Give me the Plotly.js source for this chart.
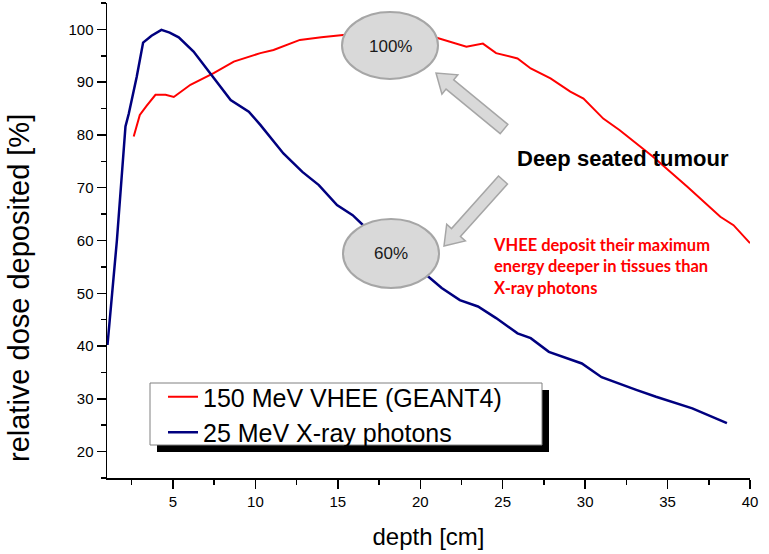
<!DOCTYPE html>
<html>
<head>
<meta charset="utf-8">
<script src="https://cdn.plot.ly/plotly-3.0.1.min.js"></script>
<style>html,body{margin:0;padding:0;background:#fff;}#chart{width:769px;height:554px;}</style>
</head>
<body>
<div id="chart"></div>
<script>
// ---- data ----
const xrayName = "25 MeV X-ray photons";
const xrayDepth = [1.03, 1.6, 2.12, 2.32, 2.8, 3.19, 3.7, 4.3, 4.8, 5.35, 6.25, 7.45, 8.5, 9.6, 10.3, 11.7, 12.85, 13.85, 14.95, 15.9, 16.6, 17.5, 18.5, 19.5, 20.5, 21.3, 22.4, 23.5, 24.6, 25.9, 26.7, 27.8, 29.8, 31.0, 33.1, 34.3, 36.5, 38.6];
const xrayDose  = [40.2, 60.0, 81.6, 84.0, 91.0, 97.5, 98.8, 99.9, 99.4, 98.5, 95.8, 91.0, 86.6, 84.4, 81.9, 76.5, 73.0, 70.5, 66.7, 64.8, 62.7, 60.8, 58.4, 55.8, 53.1, 51.0, 48.7, 47.5, 45.3, 42.4, 41.5, 38.9, 36.7, 34.1, 31.7, 30.4, 28.2, 25.4];

const vheeName = "150 MeV VHEE (GEANT4)";
const vheeDepth = [2.62, 2.99, 3.4, 3.94, 4.55, 5.05, 6.06, 7.47, 8.69, 10.3, 11.1, 12.7, 14.0, 15.15, 16.5, 18.0, 19.5, 20.5, 21.1, 22.8, 23.8, 24.6, 25.9, 26.7, 27.9, 29.1, 29.9, 31.1, 32.1, 34.1, 36.2, 38.2, 39.0, 40.0];
const vheeDose  = [79.7, 83.8, 85.5, 87.6, 87.6, 87.2, 89.5, 91.7, 93.9, 95.5, 96.1, 98.0, 98.5, 98.9, 99.3, 99.6, 99.3, 98.9, 98.3, 96.7, 97.3, 95.5, 94.5, 92.6, 90.7, 88.2, 86.9, 83.1, 80.9, 75.9, 70.2, 64.5, 62.9, 59.5];

const xTicks = [5, 10, 15, 20, 25, 30, 35, 40];
const yTicks = [20, 30, 40, 50, 60, 70, 80, 90, 100];
const xTitle = "depth [cm]";
const yTitle = "relative dose deposited [%]";
const label100 = "100%";
const label60 = "60%";
const tumourText = "Deep seated tumour";
const noteText = "VHEE deposit their maximum<br>energy deeper in tissues than<br>X-ray photons";

// ---- layout geometry ----
const W = 769, H = 554;
const M = {l: 107, r: 19, t: 3, b: 76};
const PW = W - M.l - M.r, PH = H - M.t - M.b;
const px = x => (x - M.l) / PW;
const py = y => (M.t + PH - y) / PH;

function arrowPath(tail, tip, sw, hw, hl) {
  const dx = tip[0] - tail[0], dy = tip[1] - tail[1];
  const len = Math.hypot(dx, dy);
  const ux = dx / len, uy = dy / len, nx = -uy, ny = ux;
  const neck = [tip[0] - ux * hl, tip[1] - uy * hl];
  const pts = [
    [tail[0] + nx * sw, tail[1] + ny * sw],
    [neck[0] + nx * sw, neck[1] + ny * sw],
    [neck[0] + nx * hw, neck[1] + ny * hw],
    tip,
    [neck[0] - nx * hw, neck[1] - ny * hw],
    [neck[0] - nx * sw, neck[1] - ny * sw],
    [tail[0] - nx * sw, tail[1] - ny * sw]
  ];
  return "M " + pts.map(p => px(p[0]).toFixed(4) + "," + py(p[1]).toFixed(4)).join(" L ") + " Z";
}

const FONT = "Arial, 'Liberation Sans', sans-serif";

const traces = [
  {x: vheeDepth, y: vheeDose, name: vheeName, type: "scatter", mode: "lines",
   line: {color: "#ff0000", width: 2}},
  {x: xrayDepth, y: xrayDose, name: xrayName, type: "scatter", mode: "lines",
   line: {color: "#00007f", width: 2.5}}
];

const grayFill = "#d9d9d9", grayLine = "#a6a6a6";

const layout = {
  width: W, height: H,
  margin: M,
  paper_bgcolor: "#fff", plot_bgcolor: "#fff",
  font: {family: FONT, color: "#000"},
  showlegend: true,
  legend: {x: px(163), y: py(374), xanchor: "left", yanchor: "top",
           bgcolor: "rgba(0,0,0,0)", borderwidth: 0,
           font: {family: FONT, size: 25, color: "#000"}, tracegroupgap: 0},
  xaxis: {range: [1, 40], tickvals: xTicks, ticks: "outside", ticklen: 9, tickwidth: 1.5,
          tickcolor: "#000", showline: true, linecolor: "#000", linewidth: 1.5,
          showgrid: false, zeroline: false, tickfont: {size: 15, family: FONT},
          minor: {dtick: 2.5, tick0: 0, ticks: "outside", ticklen: 5, tickwidth: 1.5, tickcolor: "#000", showgrid: false},
          title: {text: xTitle, font: {size: 24, family: FONT}, standoff: 19}},
  yaxis: {range: [15, 105], tickvals: yTicks, ticks: "outside", ticklen: 9, tickwidth: 1.5,
          tickcolor: "#000", showline: true, linecolor: "#000", linewidth: 1.5,
          showgrid: false, zeroline: false, tickfont: {size: 15, family: FONT},
          minor: {dtick: 5, tick0: 0, ticks: "outside", ticklen: 5, tickwidth: 1.5, tickcolor: "#000", showgrid: false}},
  shapes: [
    // legend shadow and box
    {type: "rect", xref: "paper", yref: "paper", x0: px(157), x1: px(549), y0: py(452), y1: py(390),
     fillcolor: "#000", line: {width: 0}, layer: "above"},
    {type: "rect", xref: "paper", yref: "paper", x0: px(150), x1: px(542), y0: py(445), y1: py(383),
     fillcolor: "#fff", line: {color: "#808080", width: 1}, layer: "above"},
    // ellipses
    {type: "circle", xref: "paper", yref: "paper", x0: px(342), x1: px(438), y0: py(79), y1: py(12),
     fillcolor: grayFill, line: {color: grayLine, width: 2}, layer: "above"},
    {type: "circle", xref: "paper", yref: "paper", x0: px(343), x1: px(439), y0: py(288), y1: py(219),
     fillcolor: grayFill, line: {color: grayLine, width: 2}, layer: "above"},
    // arrows
    {type: "path", xref: "paper", yref: "paper", path: arrowPath([504, 129], [436, 73], 6, 12.5, 18),
     fillcolor: grayFill, line: {color: grayLine, width: 1.5}, layer: "above"},
    {type: "path", xref: "paper", yref: "paper", path: arrowPath([503, 180], [444, 246], 6, 12.5, 18),
     fillcolor: grayFill, line: {color: grayLine, width: 1.5}, layer: "above"}
  ],
  annotations: [
    {xref: "paper", yref: "paper", x: px(19), y: py(288), xanchor: "center", yanchor: "middle",
     text: yTitle, textangle: -90, showarrow: false, font: {family: FONT, size: 29, color: "#000"}},
    {xref: "paper", yref: "paper", x: px(390), y: py(46), xanchor: "center", yanchor: "middle",
     text: label100, showarrow: false, font: {family: FONT, size: 17, color: "#1a1a1a"}},
    {xref: "paper", yref: "paper", x: px(391), y: py(254), xanchor: "center", yanchor: "middle",
     text: label60, showarrow: false, font: {family: FONT, size: 17, color: "#1a1a1a"}},
    {xref: "paper", yref: "paper", x: px(515), y: py(158), xanchor: "left", yanchor: "middle",
     text: "<b>" + tumourText + "</b>", showarrow: false, font: {family: FONT, size: 22, color: "#000"}},
    {xref: "paper", yref: "paper", x: px(491), y: py(266), xanchor: "left", yanchor: "middle", align: "left",
     text: "<b>" + noteText + "</b>", showarrow: false,
     font: {family: "Lato, 'Open Sans', sans-serif", size: 16.5, color: "#ff0000"}}
  ]
};

Plotly.newPlot("chart", traces, layout, {displayModeBar: false, staticPlot: true});
</script>
</body>
</html>
